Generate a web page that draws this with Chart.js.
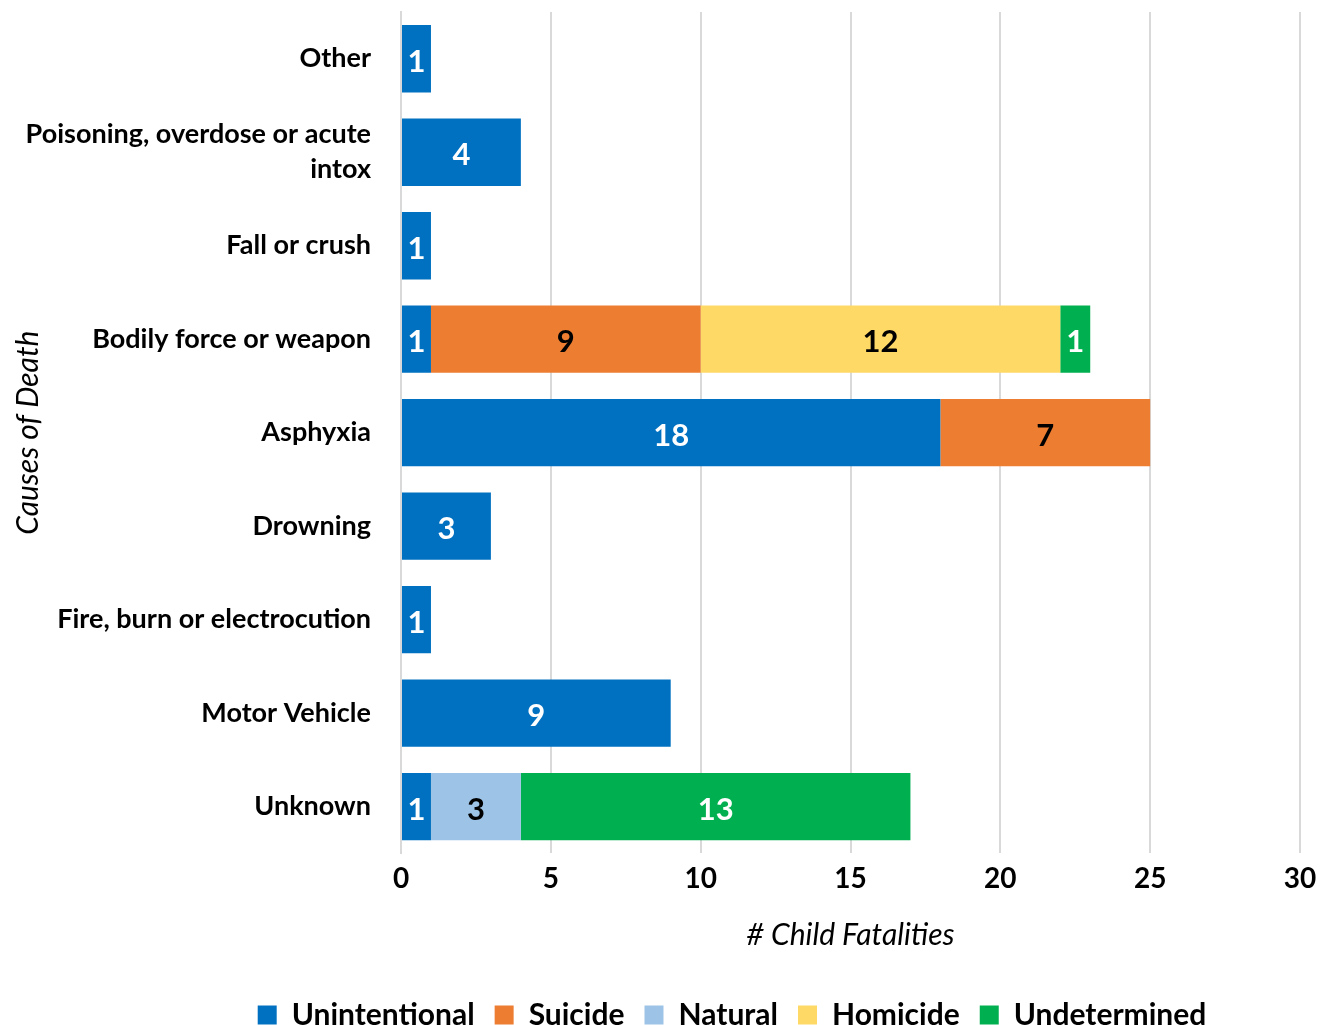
<!DOCTYPE html>
<html>
<head>
<meta charset="utf-8">
<script src="https://cdn.jsdelivr.net/npm/chart.js@4"></script>
<style>
  html, body { margin: 0; padding: 0; background: #fff; }
  #wrap { width: 1330px; height: 1025px; }
</style>
</head>
<body>
<div id="wrap"><canvas id="chart" width="1330" height="1025"></canvas></div>
<script>
// causes of death, top to bottom
const causes = [
  'Other',
  ['Poisoning, overdose or acute', 'intox'],
  'Fall or crush',
  'Bodily force or weapon',
  'Asphyxia',
  'Drowning',
  'Fire, burn or electrocution',
  'Motor Vehicle',
  'Unknown'
];

const unintentional = [1, 4, 1, 1, 18, 3, 1, 9, 1];
const suicide       = [null, null, null, 9, 7, null, null, null, null];
const natural       = [null, null, null, null, null, null, null, null, 3];
const homicide      = [null, null, null, 12, null, null, null, null, null];
const undetermined  = [null, null, null, 1, null, null, null, null, 13];

const xTicks = [0, 5, 10, 15, 20, 25, 30];

const FONT = 'Lato, "Open Sans", sans-serif';
Chart.defaults.font.family = FONT;
Chart.defaults.color = '#000';

// value labels inside bars
const barLabels = {
  id: 'barLabels',
  afterDatasetsDraw(chart) {
    const ctx = chart.ctx;
    ctx.save();
    ctx.font = 'bold 31px ' + FONT;
    ctx.textAlign = 'center';
    ctx.textBaseline = 'middle';
    chart.data.datasets.forEach((ds, i) => {
      const meta = chart.getDatasetMeta(i);
      meta.data.forEach((bar, j) => {
        const v = ds.data[j];
        if (!v) return;
        ctx.fillStyle = ds.labelColor;
        ctx.fillText(String(v), (bar.x + bar.base) / 2, bar.y + 3);
      });
    });
    ctx.restore();
  }
};

// nudge the legend box a bit (the original sits off-centre)
const legendShift = {
  id: 'legendShift',
  afterLayout(chart) {
    const lg = chart.legend;
    if (!lg) return;
    lg.left += 77; lg.right += 77;
    lg.top += 15; lg.bottom += 15;
  }
};

const series = [
  { label: 'Unintentional', data: unintentional, backgroundColor: '#0070C0', labelColor: '#fff' },
  { label: 'Suicide', data: suicide, backgroundColor: '#ED7D31', labelColor: '#000' },
  { label: 'Natural', data: natural, backgroundColor: '#9DC3E6', labelColor: '#000' },
  { label: 'Homicide', data: homicide, backgroundColor: '#FFD966', labelColor: '#000' },
  { label: 'Undetermined', data: undetermined, backgroundColor: '#00B050', labelColor: '#fff' }
];

new Chart(document.getElementById('chart'), {
  type: 'bar',
  data: {
    labels: causes,
    datasets: series.map(s => Object.assign({
      barPercentage: 0.72,
      categoryPercentage: 1.0,
      borderWidth: 0
    }, s))
  },
  options: {
    indexAxis: 'y',
    responsive: false,
    animation: false,
    layout: { padding: { left: 10, right: 30, top: 12, bottom: 0 } },
    plugins: {
      legend: {
        position: 'bottom',
        labels: {
          font: { size: 30, weight: 'bold' },
          color: '#000',
          boxWidth: 19,
          boxHeight: 19,
          padding: 20
        }
      },
      tooltip: { enabled: false }
    },
    scales: {
      x: {
        stacked: true,
        min: 0,
        max: 30,
        afterBuildTicks: s => { s.ticks = xTicks.map(v => ({ value: v })); },
        afterFit: s => { s.paddingLeft = 0; s.paddingRight = 0; },
        grid: { color: '#d9d9d9', lineWidth: 2, drawTicks: false },
        border: { display: false },
        ticks: { font: { size: 28, weight: 'bold' }, padding: 9, color: '#000' },
        title: {
          display: true,
          text: '# Child Fatalities',
          font: { size: 30, style: 'italic' },
          color: '#000',
          padding: { top: 12, bottom: 12 }
        }
      },
      y: {
        stacked: true,
        afterFit: s => { s.width = 391; s.paddingTop = 0; s.paddingBottom = 0; },
        grid: { display: false, drawTicks: false },
        border: { display: true, color: '#d9d9d9', width: 2 },
        ticks: { font: { size: 27, weight: 'bold', lineHeight: 1.3 }, padding: 30, color: '#000' },
        title: {
          display: true,
          text: 'Causes of Death',
          font: { size: 30, style: 'italic' },
          color: '#000',
          padding: 0
        }
      }
    }
  },
  plugins: [barLabels, legendShift]
});
</script>
</body>
</html>
